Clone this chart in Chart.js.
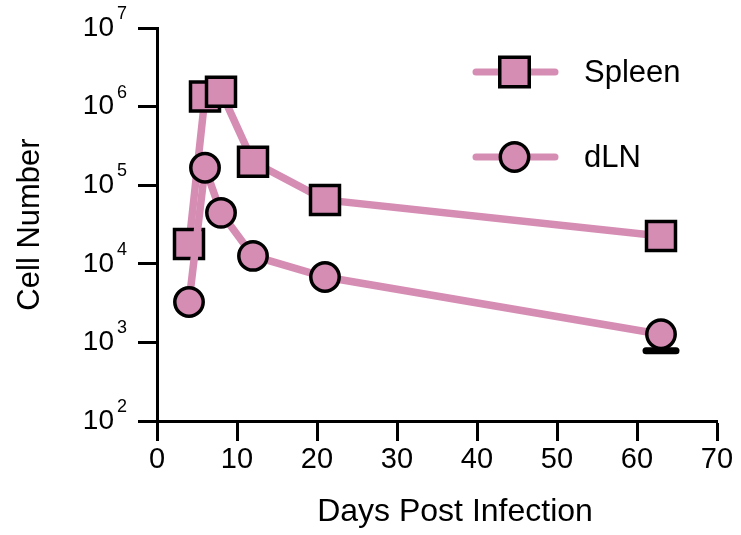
<!DOCTYPE html>
<html><head><meta charset="utf-8">
<script src="https://cdn.jsdelivr.net/npm/chart.js@4/dist/chart.umd.min.js"></script>
<style>html,body{margin:0;padding:0;background:#fff;}#wrap{width:741px;height:535px;position:relative}</style>
</head><body><div id="wrap"><canvas id="c" width="741" height="535"></canvas></div>
<script>
const days = [4, 6, 8, 12, 21, 63];
const spleen = [17900, 1340000, 1550000, 199000, 65000, 22600];
const dln = [3260, 167000, 44500, 12600, 6790, 1270];
const dlnErrLow = [null, null, null, null, null, 785];
const seriesNames = ['Spleen', 'dLN'];
const xTicks = [0, 10, 20, 30, 40, 50, 60, 70];
const yTicks = [1e2, 1e3, 1e4, 1e5, 1e6, 1e7];
const yTickBase = '10';
const yTickExponents = ['2', '3', '4', '5', '6', '7'];
const xTitle = 'Days Post Infection';
const yTitle = 'Cell Number';

const PINK = '#D68DB4';
const FONT = "'Liberation Sans', Arial, Helvetica, sans-serif";

const errorBars = {
  id: 'errorBars',
  beforeDatasetsDraw(chart) {
    const ctx = chart.ctx, xs = chart.scales.x, ys = chart.scales.y;
    ctx.save();
    ctx.strokeStyle = '#000';
    dlnErrLow.forEach((lo, i) => {
      if (lo == null) return;
      const px = xs.getPixelForValue(days[i]);
      const py = ys.getPixelForValue(dln[i]);
      const pl = ys.getPixelForValue(lo);
      ctx.lineWidth = 3;
      ctx.beginPath(); ctx.moveTo(px, py); ctx.lineTo(px, pl); ctx.stroke();
      ctx.lineWidth = 7; ctx.lineCap = 'round';
      ctx.beginPath(); ctx.moveTo(px - 15, pl); ctx.lineTo(px + 15, pl); ctx.stroke();
    });
    ctx.restore();
  }
};

const customText = {
  id: 'customText',
  afterDraw(chart) {
    const ctx = chart.ctx, ys = chart.scales.y;
    ctx.save();
    ctx.fillStyle = '#000';
    // y tick labels: 10 with superscript exponent
    yTicks.forEach((v, i) => {
      const py = ys.getPixelForValue(v);
      ctx.font = '28px ' + FONT;
      ctx.textAlign = 'right'; ctx.textBaseline = 'middle';
      ctx.fillText(yTickBase, 114, py);
      ctx.font = '18px ' + FONT;
      ctx.textAlign = 'left';
      ctx.fillText(yTickExponents[i], 117, py - 14);
    });
    // x axis title
    ctx.font = '32px ' + FONT;
    ctx.textAlign = 'center';
    ctx.textBaseline = 'middle';
    ctx.fillText(xTitle, 455, 512);
    // legend
    const rows = [
      {name: seriesNames[0], y: 72, style: 'rect'},
      {name: seriesNames[1], y: 157, style: 'circle'}
    ];
    rows.forEach(r => {
      ctx.strokeStyle = PINK; ctx.lineWidth = 7; ctx.lineCap = 'round';
      ctx.beginPath(); ctx.moveTo(476, r.y); ctx.lineTo(555, r.y); ctx.stroke();
      ctx.fillStyle = PINK; ctx.strokeStyle = '#000'; ctx.lineWidth = 3.5; ctx.lineCap = 'butt';
      ctx.beginPath();
      if (r.style === 'rect') ctx.rect(514.5 - 14.75, r.y - 14.75, 29.5, 29.5);
      else ctx.arc(514.5, r.y, 14.2, 0, Math.PI * 2);
      ctx.fill(); ctx.stroke();
      ctx.fillStyle = '#000';
      ctx.textAlign = 'left'; ctx.textBaseline = 'middle';
      ctx.font = '31px ' + FONT;
      ctx.fillText(r.name, 584, r.y + 1);
    });
    ctx.restore();
  }
};

new Chart(document.getElementById('c'), {
  type: 'line',
  data: {
    datasets: [
      {
        label: seriesNames[0],
        data: days.map((d, i) => ({x: d, y: spleen[i]})),
        borderColor: PINK, borderWidth: 7.5,
        pointStyle: 'rect', pointRadius: 20.5,
        pointBackgroundColor: PINK, pointBorderColor: '#000', pointBorderWidth: 3.5,
        order: 2, tension: 0
      },
      {
        label: seriesNames[1],
        data: days.map((d, i) => ({x: d, y: dln[i]})),
        borderColor: PINK, borderWidth: 7.5,
        pointStyle: 'circle', pointRadius: 14.2,
        pointBackgroundColor: PINK, pointBorderColor: '#000', pointBorderWidth: 3.5,
        order: 1, tension: 0
      }
    ]
  },
  options: {
    responsive: false, animation: false, devicePixelRatio: 1,
    layout: {padding: {top: 28, right: 21, bottom: 0, left: 0}},
    plugins: {legend: {display: false}, tooltip: {enabled: false}},
    scales: {
      x: {
        type: 'linear', min: 0, max: 70,
        afterBuildTicks: s => { s.ticks = xTicks.map(v => ({value: v})); },
        afterFit: s => { s.height = 114; },
        grid: {display: true, drawOnChartArea: false, drawTicks: true, tickLength: 20, tickWidth: 3, tickColor: '#000'},
        border: {display: true, color: '#000', width: 3},
        ticks: {color: '#000', font: {family: FONT, size: 29}, padding: 2, maxRotation: 0, autoSkip: false}
      },
      y: {
        type: 'logarithmic', min: 100, max: 1e7,
        afterBuildTicks: s => { s.ticks = yTicks.map(v => ({value: v})); },
        afterFit: s => { s.width = 157; },
        grid: {display: true, drawOnChartArea: false, drawTicks: true, tickLength: 19, tickWidth: 3, tickColor: '#000'},
        border: {display: true, color: '#000', width: 3},
        ticks: {display: false},
        title: {display: true, text: yTitle, color: '#000', font: {family: FONT, size: 31}, padding: {top: 12, bottom: 0}}
      }
    }
  },
  plugins: [errorBars, customText]
});
</script>
</body></html>
